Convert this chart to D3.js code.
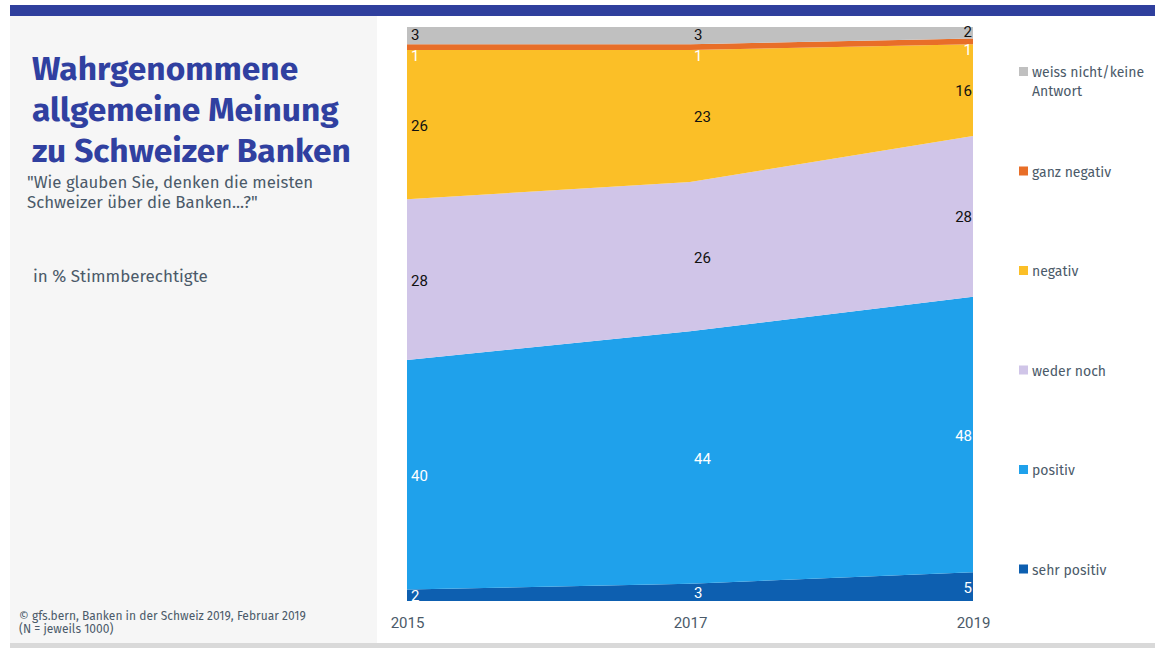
<!DOCTYPE html>
<html>
<head>
<meta charset="utf-8">
<script src="https://cdn.jsdelivr.net/npm/d3@7"></script>
<style>
  html, body { margin: 0; padding: 0; background: #ffffff; }
  svg { display: block; }
</style>
</head>
<body>
<svg id="chart" width="1155" height="648"></svg>
<script>
// Survey years (x axis)
const years = [2015, 2017, 2019];
const yearLabels = ["2015", "2017", "2019"];

// Answer categories, bottom to top
const categories = ["sehr positiv", "positiv", "weder noch", "negativ", "ganz negativ", "weiss nicht/keine Antwort"];

// Shares in % per category, one value per year
const sehrPositiv = [2, 3, 5];
const positiv = [40, 44, 48];
const wederNoch = [28, 26, 28];
const negativ = [26, 23, 16];
const ganzNegativ = [1, 1, 1];
const weissNicht = [3, 3, 2];

const seriesValues = [sehrPositiv, positiv, wederNoch, negativ, ganzNegativ, weissNicht];
const colors = ["#0d5fb0", "#1fa1eb", "#d0c5e8", "#fbbf27", "#e86e28", "#c0c0c0"];
const labelColors = ["#ffffff", "#ffffff", "#111111", "#111111", "#ffffff", "#111111"];

const svg = d3.select("#chart");
const textGray = "#4b5a69";
const narrow = "'Liberation Sans Narrow', 'Roboto', sans-serif";
const body = "'Fira Sans', 'Noto Sans', 'Open Sans', sans-serif";

// Page frame: header band, side panel, bottom strip
svg.append("rect").attr("x", 10).attr("y", 5).attr("width", 1145).attr("height", 11).attr("fill", "#2f3f9d");
svg.append("rect").attr("x", 10).attr("y", 16).attr("width", 367).attr("height", 627).attr("fill", "#f6f6f6");
svg.append("rect").attr("x", 10).attr("y", 643).attr("width", 1145).attr("height", 5).attr("fill", "#d9d9d9");

// Title block
const titleLines = ["Wahrgenommene", "allgemeine Meinung", "zu Schweizer Banken"];
svg.append("g").selectAll("text").data(titleLines).join("text")
  .attr("x", 32).attr("y", (d, i) => 80 + i * 41)
  .attr("fill", "#3040a0").attr("font-family", body)
  .attr("font-weight", "bold").attr("font-size", 33.5)
  .text(d => d);

const questionLines = ["\"Wie glauben Sie, denken die meisten", "Schweizer über die Banken...?\""];
svg.append("g").selectAll("text").data(questionLines).join("text")
  .attr("x", 27).attr("y", (d, i) => 188 + i * 20)
  .attr("fill", textGray).attr("font-family", body).attr("font-size", 16.8)
  .text(d => d);

svg.append("text").attr("x", 33).attr("y", 282)
  .attr("fill", textGray).attr("font-family", body).attr("font-size", 17)
  .text("in % Stimmberechtigte");

const footLines = ["© gfs.bern, Banken in der Schweiz 2019, Februar 2019", "(N = jeweils 1000)"];
svg.append("g").selectAll("text").data(footLines).join("text")
  .attr("x", 19).attr("y", (d, i) => 620 + i * 13)
  .attr("fill", textGray).attr("font-family", body).attr("font-size", 12)
  .text(d => d);

// Plot area
const x0 = 407, x1 = 973, yTop = 27, yBot = 601;
const x = d3.scalePoint().domain(years).range([x0, x1]);
const y = d3.scaleLinear().domain([0, 100]).range([yBot, yTop]);

const rows = years.map((yr, i) => {
  const r = { year: yr };
  categories.forEach((c, k) => { r[c] = seriesValues[k][i]; });
  return r;
});
const stacked = d3.stack().keys(categories)(rows);

const area = d3.area()
  .x(d => x(d.data.year))
  .y0(d => y(d[0]))
  .y1(d => y(d[1]));

svg.append("g").selectAll("path").data(stacked).join("path")
  .attr("d", area)
  .attr("fill", (d, i) => colors[i]);

// Value labels inside each band
const labelData = [];
stacked.forEach((layer, k) => {
  layer.forEach((d, i) => {
    labelData.push({ k, i, v: seriesValues[k][i], y0: d[0], y1: d[1], year: d.data.year });
  });
});
svg.append("g").selectAll("text").data(labelData).join("text")
  .attr("x", d => d.i === years.length - 1 ? x(d.year) - 1 : x(d.year) + 4)
  .attr("text-anchor", d => d.i === years.length - 1 ? "end" : "start")
  .attr("y", d => {
    const mid = (y(d.y0) + y(d.y1)) / 2;
    if (d.k === 4) return y(d.y0) + 11;
    if (d.k === 5) return mid + 4;
    return mid + 6;
  })
  .attr("fill", d => labelColors[d.k])
  .attr("font-family", narrow).attr("font-size", 15)
  .text(d => d.v);

// X axis labels
const xAxis = d3.axisBottom(x).tickFormat((d, i) => yearLabels[i]).tickSize(0).tickPadding(0);
const gx = svg.append("g").attr("transform", `translate(0,${yBot + 16})`).call(xAxis);
gx.select(".domain").remove();
gx.selectAll("text").attr("fill", textGray).attr("font-family", narrow).attr("font-size", 15);

// Legend, top to bottom
const legendItems = categories.map((c, k) => ({ c, k })).reverse();
const lg = svg.append("g").selectAll("g").data(legendItems).join("g")
  .attr("transform", (d, i) => `translate(1019,${72 + i * 99.5})`);
lg.append("rect").attr("x", 0).attr("y", -5).attr("width", 9).attr("height", 9)
  .attr("fill", d => colors[d.k]);
lg.each(function(d) {
  const parts = d.c === "weiss nicht/keine Antwort" ? ["weiss nicht/keine", "Antwort"] : [d.c];
  d3.select(this).selectAll("text").data(parts).join("text")
    .attr("x", 13).attr("y", (p, j) => 5 + j * 19)
    .attr("fill", textGray).attr("font-family", body).attr("font-size", 14)
    .text(p => p);
});
</script>
</body>
</html>
